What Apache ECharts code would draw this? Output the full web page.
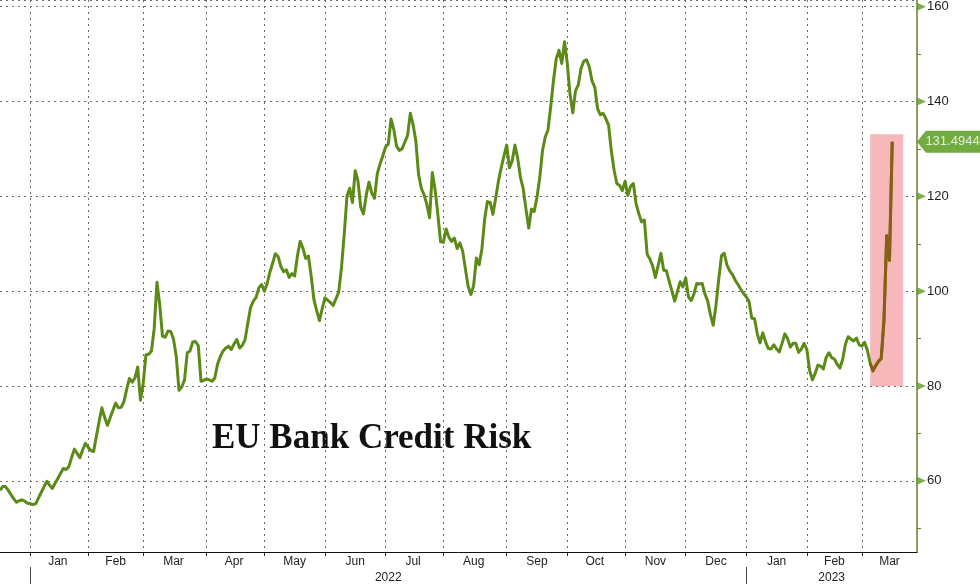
<!DOCTYPE html>
<html>
<head>
<meta charset="utf-8">
<script src="https://cdn.jsdelivr.net/npm/echarts@6/dist/echarts.min.js"></script>
<style>
html,body{margin:0;padding:0;background:#ffffff;}
#chart{width:980px;height:584px;}
</style>
</head>
<body>
<div id="chart"></div>
<script>
// ---- data ----
const startDate = '2021-12-17';   // first business day on the axis
const endDate = '2023-03-29';     // last business day on the axis
// one value per business day starting at startDate
const values = [
  58.0, 58.8, 58.8, 58.0, 57.1, 56.2, 55.5, 55.8, 56.0, 55.7,
  55.3, 55.2, 55.0, 55.2, 56.4, 57.6, 58.8, 59.9, 59.1, 58.4,
  59.5, 60.5, 61.6, 62.6, 62.4, 63.0, 64.9, 66.7, 65.8, 64.9,
  66.5, 67.9, 67.1, 66.4, 66.2, 69.4, 72.5, 75.4, 73.4, 71.7,
  73.3, 74.9, 76.4, 75.4, 75.5, 76.7, 79.3, 81.6, 80.8, 81.7,
  84.0, 77.0, 80.5, 86.6, 86.7, 87.4, 92.1, 101.9, 97.2, 90.5,
  90.3, 91.6, 91.5, 89.9, 86.3, 79.1, 79.8, 81.3, 87.0, 87.4,
  89.3, 89.4, 88.5, 81.0, 81.2, 81.5, 81.3, 81.0, 81.7, 84.6,
  86.2, 87.4, 88.0, 88.4, 87.7, 88.9, 89.8, 88.0, 88.6, 89.8,
  93.3, 96.6, 97.9, 98.7, 100.7, 101.4, 100.0, 101.6, 104.0, 105.9,
  107.9, 107.3, 105.2, 104.1, 104.5, 102.9, 103.7, 103.2, 107.4, 110.5,
  109.1, 106.9, 107.4, 103.2, 98.2, 95.9, 93.8, 96.3, 98.6, 98.1,
  97.6, 97.0, 98.4, 99.8, 104.9, 112.0, 120.0, 121.7, 118.7, 125.4,
  123.2, 117.7, 116.3, 120.3, 123.0, 120.7, 119.6, 124.8, 126.8, 128.5,
  130.4, 131.0, 136.3, 134.1, 130.6, 129.7, 130.0, 131.4, 132.8, 137.5,
  135.1, 131.7, 124.6, 121.7, 120.3, 118.3, 115.5, 125.0, 121.4, 116.2,
  110.4, 110.3, 113.1, 111.4, 110.5, 111.2, 109.0, 110.2, 108.5, 104.7,
  101.0, 99.3, 101.2, 107.0, 105.6, 108.9, 115.2, 118.9, 118.7, 116.2,
  119.6, 123.2, 126.0, 128.5, 130.8, 126.0, 127.5, 130.8, 128.0, 124.0,
  121.6, 117.3, 113.3, 117.3, 116.8, 119.8, 123.9, 129.6, 132.5, 134.0,
  139.0, 144.5, 149.0, 150.8, 148.0, 152.6, 148.0, 141.5, 137.6, 142.3,
  143.5, 147.0, 148.5, 148.8, 147.3, 144.3, 143.0, 138.5, 137.2, 137.5,
  136.4, 135.0, 129.6, 125.5, 122.7, 122.3, 121.2, 123.2, 120.2, 122.1,
  122.7, 118.4, 116.3, 114.6, 115.0, 107.8, 106.8, 105.3, 102.9, 105.4,
  108.0, 104.4, 104.3, 102.1, 100.0, 97.9, 99.9, 102.0, 100.9, 102.8,
  98.8, 98.0, 99.4, 101.6, 101.5, 101.6, 99.4, 97.9, 95.0, 92.8,
  97.0, 102.5, 107.5, 108.0, 105.5, 104.3, 103.5, 102.3, 101.4, 100.4,
  99.5, 98.8, 97.8, 94.3, 94.2, 91.0, 89.1, 91.2, 89.3, 87.9,
  87.8, 88.7, 87.8, 87.2, 89.0, 91.0, 90.0, 88.2, 89.0, 89.0,
  87.1, 87.8, 89.0, 87.7, 83.3, 81.3, 82.6, 84.4, 84.2, 83.6,
  86.0, 87.0, 86.0, 85.7, 84.6, 83.8, 85.6, 88.8, 90.4, 89.9,
  89.5, 90.1, 88.7, 88.4, 89.2, 87.5, 84.8, 83.2, 84.3, 85.2,
  85.8, 93.8, 111.7, 106.5, 131.4944
];
const yMajorTicks = [60, 80, 100, 120, 140, 160];
const yMinorTicks = [50, 70, 90, 110, 130, 150];
const monthLabels = ['Jan','Feb','Mar','Apr','May','Jun','Jul','Aug','Sep','Oct','Nov','Dec'];
const highlightDates = ['2023-03-06', '2023-03-22'];
const highlightValues = [80, 133.1];
const titleText = 'EU Bank Credit Risk';

// ---- categories (business days) ----
function businessDays(s, e) {
  const out = [];
  let d = new Date(s + 'T00:00:00Z');
  const end = new Date(e + 'T00:00:00Z');
  while (d <= end) {
    const w = d.getUTCDay();
    if (w !== 0 && w !== 6) out.push(d.toISOString().slice(0, 10));
    d = new Date(d.getTime() + 86400000);
  }
  return out;
}
const cats = businessDays(startDate, endDate);

function segments(keyLen) {
  const starts = [];
  for (let i = 1; i < cats.length; i++) {
    if (cats[i].slice(0, keyLen) !== cats[i - 1].slice(0, keyLen)) starts.push(i);
  }
  const labels = [];
  for (let k = 0; k < starts.length; k++) {
    const a = starts[k];
    const b = k + 1 < starts.length ? starts[k + 1] : cats.length;
    labels.push(Math.floor((a + b) / 2));
  }
  return { ticks: new Set(starts), labels: new Set(labels) };
}
const months = segments(7);
const years = segments(4);

const lastValue = values[values.length - 1];
const hiStartIdx = cats.indexOf(highlightDates[0]);
const highlightSeries = values.map((v, i) => (i >= hiStartIdx ? v : null));

const GREEN = '#5b8b16';
const BROWN = '#8a5e16';
const AXIS = '#6b7c2e';
const GRIDC = '#6a6a6a';
const FONT = 'Liberation Sans';
const yMin = 45, yMax = 161.4;

const chart = echarts.init(document.getElementById('chart'), null, { renderer: 'canvas' });
chart.setOption({
  animation: false,
  backgroundColor: '#ffffff',
  grid: { left: 0, right: 63, top: -1, bottom: 32, containLabel: false },
  xAxis: [
    {
      type: 'category', data: cats, boundaryGap: false, position: 'bottom',
      axisLine: { show: true, onZero: false, lineStyle: { color: '#111', width: 1 } },
      axisTick: { show: true, interval: (i) => months.ticks.has(i), length: 4, lineStyle: { color: '#111' } },
      axisLabel: {
        interval: (i) => months.labels.has(i),
        formatter: (v) => monthLabels[parseInt(v.slice(5, 7), 10) - 1],
        margin: 4, color: '#222', fontSize: 12, fontFamily: FONT
      },
      splitLine: { show: true, interval: (i) => months.ticks.has(i), lineStyle: { color: GRIDC, width: 1, type: [2, 4] } }
    },
    {
      type: 'category', data: cats, boundaryGap: false, position: 'bottom', offset: 15,
      axisLine: { show: false, onZero: false },
      axisTick: { show: true, interval: (i) => years.ticks.has(i), length: 18, lineStyle: { color: '#444' } },
      axisLabel: {
        interval: (i) => years.labels.has(i),
        formatter: (v) => v.slice(0, 4),
        margin: 5, color: '#222', fontSize: 12, fontFamily: FONT
      },
      splitLine: { show: false }
    },
    { type: 'value', min: 0, max: 1, show: false, axisLine: { onZero: false } }
  ],
  yAxis: [
    {
      type: 'value', position: 'right', min: yMin, max: yMax, splitNumber: 5,
      axisLine: { show: true, onZero: false, lineStyle: { color: AXIS, width: 1.5 } },
      axisTick: { show: false },
      axisLabel: { customValues: yMajorTicks, margin: 10, color: '#222', fontSize: 13, fontFamily: FONT },
      splitLine: { show: true, lineStyle: { color: GRIDC, width: 1, type: [2, 4] } }
    },
    {
      type: 'value', position: 'right', min: yMin, max: yMax,
      axisLine: { show: false, onZero: false },
      axisLabel: { show: false },
      splitLine: { show: false },
      axisTick: { show: true, customValues: yMinorTicks, length: 4, inside: false, lineStyle: { color: AXIS, width: 1 } }
    }
  ],
  series: [
    {
      name: 'risk', type: 'line', xAxisIndex: 0, yAxisIndex: 0, data: values,
      showSymbol: false, z: 3,
      lineStyle: { color: GREEN, width: 3, join: 'round' },
      markArea: {
        silent: true,
        itemStyle: { color: '#f6b8bb' },
        data: [[
          { xAxis: highlightDates[0], yAxis: highlightValues[0] },
          { xAxis: highlightDates[1], yAxis: highlightValues[1] }
        ]]
      }
    },
    {
      name: 'riskHighlight', type: 'line', xAxisIndex: 0, yAxisIndex: 0, data: highlightSeries,
      showSymbol: false, z: 4, connectNulls: false,
      lineStyle: { color: BROWN, width: 3, join: 'round' }
    },
    {
      name: 'ticks', type: 'scatter', xAxisIndex: 2, yAxisIndex: 0, silent: true, clip: false, z: 6,
      data: yMajorTicks.map((v) => [1, v]),
      symbol: 'path://M0,0L10,5L0,10Z', symbolSize: [9, 8], symbolOffset: ['50%', 0],
      itemStyle: { color: '#5d9a1a' }
    },
    {
      name: 'last', type: 'scatter', xAxisIndex: 2, yAxisIndex: 0, silent: true, clip: false, z: 7,
      data: [[1, lastValue]],
      symbol: 'path://M0,11L9,0L64,0L64,22L9,22Z', symbolSize: [63, 22], symbolOffset: ['50%', 0],
      itemStyle: { color: '#4f9712' },
      label: {
        show: true, position: 'inside', offset: [4, 0],
        formatter: (p) => p.value[1].toFixed(4),
        color: '#ffffff', fontSize: 13, fontFamily: FONT
      }
    }
  ],
  graphic: [
    {
      type: 'text', left: 212, top: 421, silent: true,
      style: { text: titleText, font: 'bold 35px "Liberation Serif", "Times New Roman", serif', fill: '#111' }
    }
  ]
});
</script>
</body>
</html>
